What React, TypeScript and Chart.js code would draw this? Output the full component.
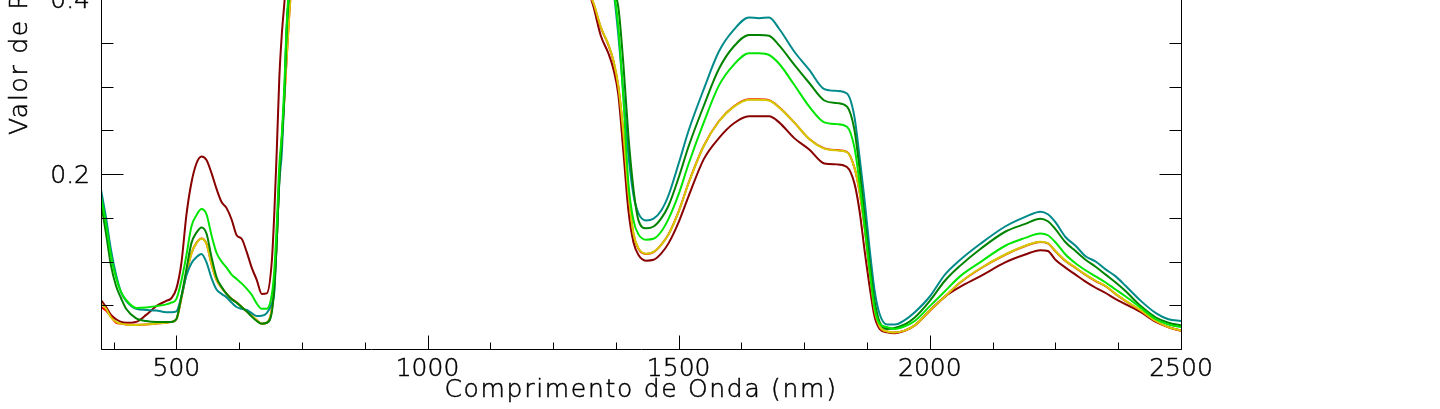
import React, { useEffect, useRef } from 'react';
import { Chart, registerables } from 'chart.js';

Chart.register(...registerables);

// Wavelength grid (nm)
const wavelengths = [
  350, 360, 370, 380, 390, 400, 420, 440, 460, 480,
  490, 500, 510, 520, 530, 540, 550, 560, 570, 580,
  590, 600, 610, 620, 630, 640, 650, 660, 670, 680,
  690, 695, 700, 705, 710, 715, 720, 730, 750, 800,
  900, 970, 1050, 1150, 1200, 1250, 1300, 1330, 1345, 1360,
  1370, 1380, 1390, 1400, 1410, 1420, 1435, 1450, 1465, 1480,
  1500, 1520, 1550, 1580, 1610, 1640, 1660, 1680, 1700, 1730,
  1760, 1790, 1815, 1835, 1850, 1860, 1870, 1880, 1890, 1900,
  1915, 1930, 1950, 1970, 2000, 2030, 2060, 2100, 2150, 2190,
  2220, 2235, 2250, 2270, 2290, 2310, 2330, 2350, 2370, 2390,
  2420, 2450, 2475, 2500,
];

const tealValues = [
  0.182, 0.150, 0.113, 0.085, 0.065, 0.055, 0.046, 0.0446, 0.044, 0.042,
  0.042, 0.043, 0.060, 0.084, 0.098, 0.105, 0.1086, 0.099, 0.081, 0.068,
  0.063, 0.059, 0.053, 0.048, 0.046, 0.0446, 0.041, 0.0377, 0.038, 0.041,
  0.052, 0.065, 0.125, 0.19, 0.225, 0.29, 0.37, 0.44, 0.47, 0.50,
  0.51, 0.49, 0.51, 0.50, 0.47, 0.48, 0.47, 0.45, 0.44, 0.43,
  0.41, 0.358, 0.292, 0.222, 0.176, 0.155, 0.147, 0.149, 0.158, 0.176,
  0.212, 0.250, 0.297, 0.340, 0.365, 0.379, 0.378, 0.379, 0.366, 0.340,
  0.319, 0.297, 0.295, 0.292, 0.265, 0.220, 0.171, 0.115, 0.067, 0.040,
  0.028, 0.028, 0.033, 0.042, 0.060, 0.085, 0.1017, 0.120, 0.140, 0.151,
  0.157, 0.154, 0.145, 0.128, 0.118, 0.106, 0.100, 0.091, 0.083, 0.072,
  0.055, 0.041, 0.034, 0.032,
];

const darkGreenValues = [
  0.167, 0.132, 0.095, 0.072, 0.058, 0.046, 0.035, 0.032, 0.031, 0.031,
  0.031, 0.034, 0.060, 0.091, 0.121, 0.133, 0.139, 0.132, 0.105, 0.082,
  0.071, 0.063, 0.057, 0.053, 0.048, 0.043, 0.037, 0.032, 0.029, 0.030,
  0.042, 0.070, 0.1246, 0.195, 0.239, 0.29, 0.37, 0.43, 0.46, 0.48,
  0.49, 0.47, 0.49, 0.48, 0.45, 0.46, 0.45, 0.44, 0.43, 0.42,
  0.41, 0.39, 0.325, 0.243, 0.183, 0.147, 0.138, 0.140, 0.149, 0.164,
  0.196, 0.232, 0.278, 0.320, 0.346, 0.359, 0.359, 0.358, 0.347, 0.325,
  0.304, 0.284, 0.281, 0.277, 0.250, 0.206, 0.153, 0.100, 0.055, 0.031,
  0.023, 0.024, 0.028, 0.036, 0.055, 0.078, 0.095, 0.114, 0.134, 0.143,
  0.149, 0.146, 0.137, 0.122, 0.112, 0.102, 0.094, 0.085, 0.076, 0.066,
  0.049, 0.036, 0.030, 0.027,
];

const limeValues = [
  0.174, 0.143, 0.106, 0.081, 0.065, 0.056, 0.047, 0.0475, 0.049, 0.051,
  0.053, 0.057, 0.078, 0.107, 0.140, 0.153, 0.160, 0.154, 0.130, 0.110,
  0.100, 0.093, 0.085, 0.080, 0.075, 0.069, 0.062, 0.052, 0.046, 0.046,
  0.062, 0.090, 0.144, 0.21, 0.245, 0.30, 0.375, 0.44, 0.465, 0.485,
  0.495, 0.475, 0.495, 0.485, 0.455, 0.465, 0.455, 0.44, 0.43, 0.42,
  0.41, 0.367, 0.285, 0.189, 0.147, 0.131, 0.125, 0.126, 0.134, 0.149,
  0.177, 0.212, 0.259, 0.301, 0.325, 0.338, 0.338, 0.336, 0.326, 0.302,
  0.277, 0.259, 0.257, 0.254, 0.230, 0.190, 0.141, 0.091, 0.047, 0.029,
  0.025, 0.023, 0.026, 0.032, 0.049, 0.066, 0.083, 0.099, 0.118, 0.127,
  0.132, 0.130, 0.122, 0.108, 0.098, 0.090, 0.083, 0.076, 0.068, 0.060,
  0.047, 0.034, 0.028, 0.025,
];

const yellowValues = [
  0.052, 0.046, 0.036, 0.031, 0.029, 0.028, 0.0274, 0.028, 0.029, 0.030,
  0.031, 0.034, 0.058, 0.086, 0.109, 0.121, 0.126, 0.120, 0.097, 0.079,
  0.070, 0.063, 0.057, 0.053, 0.048, 0.043, 0.038, 0.033, 0.029, 0.030,
  0.045, 0.075, 0.125, 0.195, 0.24, 0.285, 0.335, 0.42, 0.45, 0.47,
  0.48, 0.46, 0.48, 0.47, 0.44, 0.45, 0.43, 0.396, 0.368, 0.348,
  0.330, 0.300, 0.2465, 0.178, 0.132, 0.115, 0.109, 0.111, 0.119, 0.131,
  0.157, 0.190, 0.232, 0.260, 0.277, 0.285, 0.285, 0.284, 0.276, 0.259,
  0.240, 0.229, 0.227, 0.225, 0.207, 0.180, 0.140, 0.090, 0.045, 0.026,
  0.020, 0.019, 0.021, 0.027, 0.044, 0.060, 0.076, 0.092, 0.108, 0.118,
  0.1226, 0.121, 0.112, 0.101, 0.093, 0.085, 0.078, 0.072, 0.063, 0.055,
  0.044, 0.032, 0.025, 0.021,
];

const redValues = [
  0.048, 0.044, 0.037, 0.030, 0.029, 0.028, 0.0276, 0.028, 0.029, 0.030,
  0.031, 0.034, 0.058, 0.0863, 0.1093, 0.1213, 0.1263, 0.1203, 0.097, 0.079,
  0.070, 0.063, 0.0573, 0.0533, 0.048, 0.043, 0.038, 0.033, 0.029, 0.030,
  0.045, 0.0755, 0.126, 0.196, 0.241, 0.286, 0.336, 0.42, 0.45, 0.47,
  0.48, 0.46, 0.48, 0.47, 0.44, 0.45, 0.43, 0.3955, 0.3675, 0.3475,
  0.3295, 0.2995, 0.2460, 0.1775, 0.1315, 0.1145, 0.1087, 0.1107, 0.119, 0.1313,
  0.1573, 0.1903, 0.2323, 0.2603, 0.2773, 0.2853, 0.2853, 0.2843, 0.2763, 0.259,
  0.240, 0.2293, 0.2273, 0.2253, 0.207, 0.1797, 0.1395, 0.0895, 0.0447, 0.0257,
  0.0198, 0.0188, 0.0208, 0.0268, 0.0438, 0.0598, 0.0757, 0.0917, 0.1077, 0.1177,
  0.1223, 0.1207, 0.1117, 0.1007, 0.0927, 0.0847, 0.0777, 0.0717, 0.0627, 0.0547,
  0.0437, 0.0317, 0.0247, 0.0207,
];

const darkRedValues = [
  0.056, 0.048, 0.039, 0.034, 0.031, 0.030, 0.031, 0.039, 0.049, 0.055,
  0.058, 0.069, 0.098, 0.153, 0.190, 0.212, 0.220, 0.216, 0.201, 0.183,
  0.168, 0.161, 0.148, 0.130, 0.126, 0.111, 0.093, 0.079, 0.063, 0.0636,
  0.100, 0.155, 0.228, 0.31, 0.36, 0.395, 0.43, 0.46, 0.48, 0.50,
  0.51, 0.49, 0.51, 0.50, 0.46, 0.46, 0.44, 0.392, 0.358, 0.338,
  0.320, 0.290, 0.225, 0.158, 0.122, 0.1074, 0.101, 0.102, 0.109, 0.121,
  0.145, 0.175, 0.217, 0.241, 0.258, 0.266, 0.266, 0.266, 0.259, 0.241,
  0.228, 0.212, 0.211, 0.208, 0.189, 0.158, 0.113, 0.072, 0.037, 0.023,
  0.019, 0.018, 0.021, 0.027, 0.044, 0.060, 0.071, 0.083, 0.099, 0.108,
  0.113, 0.112, 0.102, 0.093, 0.085, 0.077, 0.070, 0.064, 0.057, 0.051,
  0.042, 0.031, 0.025, 0.021,
];

const seriesNames = ['Verde claro', 'Verde escuro', 'Ciano', 'Amarelo', 'Vermelho', 'Vermelho escuro'];
const seriesValues = [limeValues, darkGreenValues, tealValues, yellowValues, redValues, darkRedValues];
const seriesColors = ['#00e600', '#008400', '#008a8a', '#d2cc00', '#ff0000', '#880000'];

const xMajorTicks = [500, 1000, 1500, 2000, 2500];
const xMajorLabels = ['500', '1000', '1500', '2000', '2500'];
const xMinorTicks = [375, 625, 750, 875, 1125, 1250, 1375, 1625, 1750, 1875, 2125, 2250, 2375];
const yMajorTicks = [0, 0.2, 0.4, 0.6, 0.8];
const yMajorLabels = ['', '0.2', '0.4', '0.6', '0.8'];
const yMinorTicks = [0.05, 0.1, 0.15, 0.25, 0.3, 0.35, 0.45, 0.5, 0.55, 0.65, 0.7, 0.75];
const xTitle = 'Comprimento de Onda (nm)';
const yTitle = 'Valor de Reflectância';

const CANVAS_W = 1440;
const CANVAS_H = 800;
const CANVAS_SHIFT = 391;
const FONT = '200 25px "DejaVu Sans", sans-serif';

const idlAxesPlugin = {
  id: 'idlAxes',
  afterDatasetsDraw(chart: any) {
    const { ctx, chartArea: a, scales } = chart;
    const xs = scales.x;
    const ys = scales.y;
    const L = Math.round(a.left) + 0.5;
    const R = Math.round(a.right) + 0.5;
    const T = Math.round(a.top) + 0.5;
    const B = Math.round(a.bottom) + 0.5;
    ctx.save();
    ctx.strokeStyle = '#000';
    ctx.lineWidth = 1;
    ctx.beginPath();
    ctx.moveTo(L, T); ctx.lineTo(R, T); ctx.lineTo(R, B); ctx.lineTo(L, B); ctx.closePath();
    const xTick = (v: number, len: number) => {
      const px = Math.round(xs.getPixelForValue(v)) + 0.5;
      ctx.moveTo(px, B); ctx.lineTo(px, B - len);
      ctx.moveTo(px, T); ctx.lineTo(px, T + len);
    };
    const yTick = (v: number, len: number) => {
      const py = Math.round(ys.getPixelForValue(v)) + 0.5;
      ctx.moveTo(L, py); ctx.lineTo(L + len, py);
      ctx.moveTo(R, py); ctx.lineTo(R - len, py);
    };
    xMajorTicks.forEach((v) => xTick(v, 14));
    xMinorTicks.forEach((v) => xTick(v, 7));
    yMajorTicks.forEach((v) => yTick(v, 22));
    yMinorTicks.forEach((v) => yTick(v, 12));
    ctx.stroke();

    ctx.fillStyle = '#000';
    ctx.strokeStyle = '#000';
    ctx.lineWidth = 0.5;
    ctx.font = FONT;
    ctx.textBaseline = 'alphabetic';
    const put = (s: string, x: number, y: number) => {
      ctx.fillText(s, x, y);
      ctx.strokeText(s, x, y);
    };
    ctx.textAlign = 'center';
    xMajorTicks.forEach((v, i) => put(xMajorLabels[i], xs.getPixelForValue(v), a.bottom + 27));
    ctx.textAlign = 'right';
    yMajorTicks.forEach((v, i) => {
      if (yMajorLabels[i]) put(yMajorLabels[i], a.left - 11, ys.getPixelForValue(v) + 9);
    });

    if ('letterSpacing' in ctx) (ctx as any).letterSpacing = '1.7px';
    ctx.textAlign = 'center';
    put(xTitle, (a.left + a.right) / 2, a.bottom + 48);

    ctx.save();
    ctx.translate(27, a.bottom - 214);
    ctx.rotate(-Math.PI / 2);
    ctx.textAlign = 'left';
    put(yTitle, 0, 0);
    ctx.restore();
    ctx.restore();
  },
};

export default function App() {
  const canvasRef = useRef<HTMLCanvasElement | null>(null);

  useEffect(() => {
    const canvas = canvasRef.current;
    if (!canvas) return;
    const chart = new Chart(canvas, {
      type: 'line',
      data: {
        datasets: seriesValues.map((vals, i) => ({
          label: seriesNames[i],
          data: wavelengths.map((w, j) => ({ x: w, y: vals[j] })),
          borderColor: seriesColors[i],
          backgroundColor: seriesColors[i],
          borderWidth: 2,
          pointRadius: 0,
          fill: false,
          cubicInterpolationMode: 'monotone' as const,
        })),
      },
      options: {
        responsive: false,
        maintainAspectRatio: false,
        devicePixelRatio: 1,
        animation: false,
        events: [],
        layout: { padding: { left: 101, right: CANVAS_W - 1181, top: 40, bottom: 60 } },
        plugins: { legend: { display: false }, tooltip: { enabled: false }, title: { display: false } },
        scales: {
          x: { type: 'linear', min: 350, max: 2500, display: false },
          y: { type: 'linear', min: 0, max: 0.8, display: false },
        },
      },
      plugins: [idlAxesPlugin],
    });
    return () => chart.destroy();
  }, []);

  return (
    <div style={{ position: 'fixed', left: 0, top: 0, width: CANVAS_W, height: 409, overflow: 'hidden', background: '#fff' }}>
      <canvas
        ref={canvasRef}
        width={CANVAS_W}
        height={CANVAS_H}
        style={{ position: 'absolute', left: 0, top: -CANVAS_SHIFT, width: CANVAS_W, height: CANVAS_H, display: 'block' }}
      />
    </div>
  );
}
